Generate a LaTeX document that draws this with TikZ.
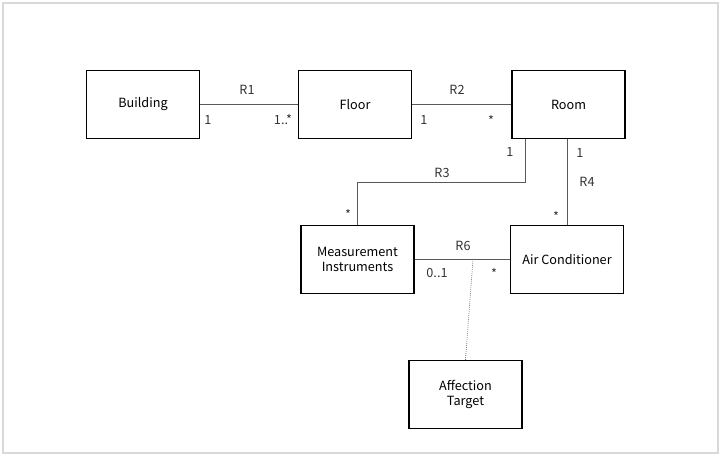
\documentclass[tikz,border=0pt]{standalone}
\usepackage{fontspec}
\setmainfont{Noto Sans CJK JP}
\usepackage{tikz}
\usetikzlibrary{positioning}

\begin{document}
\begin{tikzpicture}[x=0.75pt,y=-0.75pt,
  box/.style={draw,line width=1.1pt,minimum width=85pt,minimum height=51pt,align=center,font=\fontsize{9.5}{11}\selectfont,inner sep=1pt},
  conn/.style={draw=black!65,line width=0.6pt},
  lbl/.style={font=\fontsize{9.5}{11}\selectfont,text=black!80,inner sep=0pt}]
\useasboundingbox (0,0) rectangle (721,456);
% frame
\draw[black!15,line width=1.5pt] (3,3) rectangle (718,453);
% classes
\node[box] (building) at (143,104.5) {Building};
\node[box] (floor) at (355,104.5) {Floor};
\node[box] (room) at (568.5,104.5) {Room};
\node[box] (mi) at (357.5,259.5) {Measurement\\Instruments};
\node[box] (ac) at (567,259.5) {Air Conditioner};
\node[box] (at) at (465.5,394.5) {Affection\\Target};
% associations
\draw[conn] (building.east) -- (floor.west);
\draw[conn] (floor.east) -- (room.west);
\draw[conn] ([xshift=-32.6pt]room.south) -- ++(0,43) -| (mi.north);
\draw[conn] (ac.north) -- (ac.north |- room.south);
\draw[conn] (mi.east) -- (ac.west);
\coordinate (r6) at (473,259.5);
\draw[black!70,line width=0.5pt,densely dotted] (r6) -- (at.north);
% labels
\node[lbl] (r1) at (247,90) {R1};
\node[lbl] at (208,120) {1};
\node[lbl] at (283,120) {1..*};
\node[lbl] (r2) at (457,90) {R2};
\node[lbl] at (424,120) {1};
\node[lbl] at (491,120) {*};
\node[lbl] (r3) at (442,173) {R3};
\node[lbl] at (510,152) {1};
\node[lbl] at (348,214) {*};
\node[lbl] (r4) at (587,182) {R4};
\node[lbl] at (580,153) {1};
\node[lbl] at (556,216) {*};
\node[lbl] (r6l) at (463,246) {R6};
\node[lbl] at (437,273) {0..1};
\node[lbl] at (494,273) {*};
\end{tikzpicture}
\end{document}
